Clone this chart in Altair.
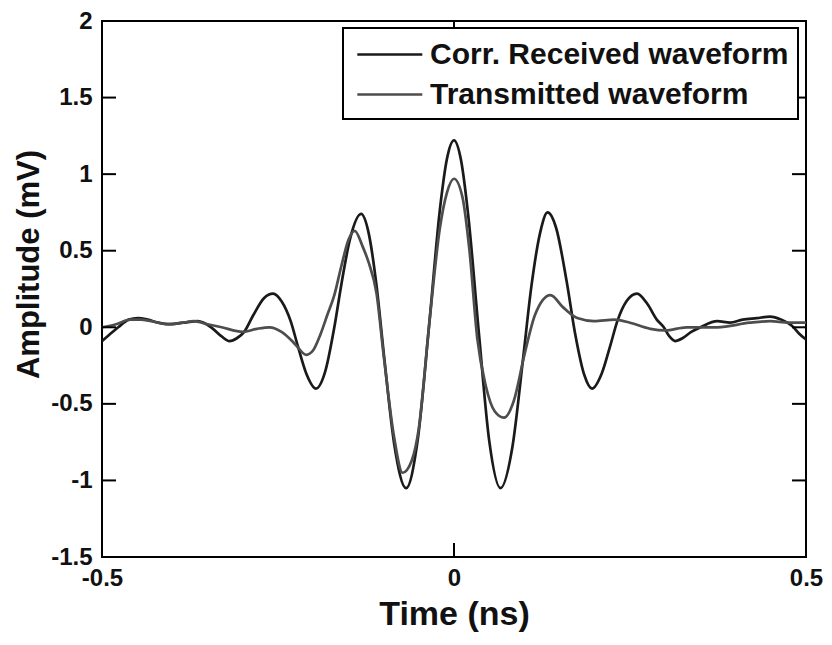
import altair as alt
import pandas as pd

# ---- data ----
series_names = ["Corr. Received waveform", "Transmitted waveform"]

t_rx = [-0.500, -0.490, -0.477, -0.462, -0.449, -0.435, -0.420, -0.406, -0.385, -0.364,
        -0.345, -0.330, -0.319, -0.308, -0.298, -0.285, -0.270, -0.257, -0.245, -0.232,
        -0.222, -0.210, -0.196, -0.183, -0.170, -0.160, -0.148, -0.132, -0.121, -0.110,
        -0.100, -0.085, -0.068, -0.052, -0.035, -0.020, -0.010, 0.000, 0.010, 0.020,
        0.035, 0.050, 0.066, 0.083, 0.098, 0.110, 0.122, 0.133, 0.145, 0.160,
        0.172, 0.185, 0.196, 0.210, 0.222, 0.232, 0.245, 0.260, 0.275, 0.288,
        0.298, 0.306, 0.314, 0.325, 0.337, 0.350, 0.374, 0.392, 0.410, 0.430,
        0.449, 0.465, 0.480, 0.490, 0.500]
v_rx = [-0.09, -0.05, 0.00, 0.05, 0.06, 0.05, 0.03, 0.02, 0.03, 0.04,
        0.00, -0.06, -0.09, -0.07, -0.03, 0.08, 0.19, 0.22, 0.17, 0.04,
        -0.12, -0.30, -0.40, -0.29, 0.00, 0.28, 0.57, 0.74, 0.61, 0.27,
        -0.16, -0.76, -1.05, -0.75, 0.03, 0.77, 1.10, 1.22, 1.09, 0.74,
        -0.02, -0.74, -1.05, -0.78, -0.21, 0.27, 0.61, 0.75, 0.65, 0.30,
        -0.04, -0.31, -0.40, -0.30, -0.12, 0.04, 0.17, 0.22, 0.15, 0.05,
        0.00, -0.06, -0.09, -0.07, -0.03, 0.00, 0.04, 0.03, 0.05, 0.06,
        0.07, 0.05, 0.01, -0.04, -0.08]

t_tx = [-0.500, -0.480, -0.460, -0.445, -0.430, -0.406, -0.385, -0.370, -0.350, -0.330,
        -0.300, -0.280, -0.262, -0.245, -0.230, -0.222, -0.210, -0.200, -0.190, -0.180,
        -0.170, -0.160, -0.150, -0.141, -0.130, -0.121, -0.110, -0.100, -0.085, -0.073,
        -0.060, -0.050, -0.035, -0.020, -0.010, 0.000, 0.012, 0.022, 0.033, 0.045,
        0.058, 0.071, 0.085, 0.100, 0.115, 0.137, 0.155, 0.175, 0.199, 0.228,
        0.250, 0.279, 0.300, 0.330, 0.374, 0.420, 0.449, 0.475, 0.500]
v_tx = [0.00, 0.02, 0.05, 0.05, 0.04, 0.02, 0.03, 0.04, 0.02, 0.00,
        -0.03, -0.01, 0.00, -0.03, -0.09, -0.13, -0.18, -0.15, -0.05, 0.08,
        0.21, 0.40, 0.57, 0.63, 0.53, 0.42, 0.22, -0.18, -0.72, -0.95,
        -0.87, -0.66, 0.03, 0.65, 0.88, 0.97, 0.85, 0.50, -0.07, -0.38,
        -0.55, -0.59, -0.48, -0.18, 0.08, 0.21, 0.13, 0.06, 0.04, 0.05,
        0.03, -0.01, -0.02, 0.00, 0.00, 0.03, 0.04, 0.03, 0.03]

y_ticks = [-1.5, -1, -0.5, 0, 0.5, 1, 1.5, 2]
x_ticks = [-0.5, 0, 0.5]

df = pd.concat([
    pd.DataFrame({"t": t_rx, "v": v_rx, "s": series_names[0]}),
    pd.DataFrame({"t": t_tx, "v": v_tx, "s": series_names[1]}),
], ignore_index=True)

W, H = 704, 536
TICK = 14
FONT = "Liberation Sans"

xs = alt.Scale(domain=[-0.5, 0.5], nice=False, zero=False)
ys = alt.Scale(domain=[-1.5, 2], nice=False, zero=False)

x_axis = alt.Axis(values=x_ticks, title="Time (ns)", labelExpr="'' + datum.value",
                  labelPadding=9, titleFontSize=34, titleY=40)
y_axis = alt.Axis(values=y_ticks, title="Amplitude (mV)", labelExpr="'' + datum.value",
                  labelPadding=10, titleFontSize=31, titleX=-57, titleY=243,
                  titleBaseline="bottom")

lines = alt.Chart(df).mark_line(interpolate="monotone", strokeWidth=2.7).encode(
    x=alt.X("t:Q", scale=xs, axis=x_axis),
    y=alt.Y("v:Q", scale=ys, axis=y_axis),
    color=alt.Color("s:N", scale=alt.Scale(domain=series_names, range=["#1a1a1a", "#4d4d4d"]),
                    legend=alt.Legend(title=None, orient="none", legendX=241, legendY=7,
                                      symbolType="M-0.75,0H3.25", symbolSize=1056,
                                      symbolStrokeWidth=2.5, labelFontSize=30,
                                      labelFont=FONT, labelFontWeight="bold",
                                      labelColor="#111", labelLimit=600, labelOffset=43,
                                      padding=9, rowPadding=7,
                                      strokeColor="black", fillColor="white")),
)

yt = pd.DataFrame({"v": y_ticks})
xt = pd.DataFrame({"t": x_ticks})
tick_style = dict(color="black", strokeWidth=2)

left_ticks = alt.Chart(yt).mark_rule(**tick_style).encode(
    y=alt.Y("v:Q", scale=ys, axis=y_axis), x=alt.value(0), x2=alt.value(TICK))
right_ticks = alt.Chart(yt).mark_rule(**tick_style).encode(
    y=alt.Y("v:Q", scale=ys, axis=y_axis), x=alt.value(W - TICK), x2=alt.value(W))
bottom_ticks = alt.Chart(xt).mark_rule(**tick_style).encode(
    x=alt.X("t:Q", scale=xs, axis=x_axis), y=alt.value(H - TICK), y2=alt.value(H))
top_ticks = alt.Chart(xt).mark_rule(**tick_style).encode(
    x=alt.X("t:Q", scale=xs, axis=x_axis), y=alt.value(0), y2=alt.value(TICK))

chart = alt.layer(lines, left_ticks, right_ticks, bottom_ticks, top_ticks).properties(
    width=W, height=H,
    autosize=alt.AutoSizeParams(type="none"),
    padding={"left": 94, "top": 13, "right": 18, "bottom": 76},
    background="white",
).configure_view(stroke="black", strokeWidth=2).configure_axis(
    grid=False, ticks=False, tickSize=0, domain=False,
    labelFont=FONT, labelFontWeight="bold", labelFontSize=24, labelColor="#111",
    labelFlush=False, labelOverlap=False,
    titleFont=FONT, titleFontWeight="bold", titleColor="#111",
).configure_legend(strokeWidth=2)

chart.save("out.html", embed_options={"renderer": "svg", "actions": False})
